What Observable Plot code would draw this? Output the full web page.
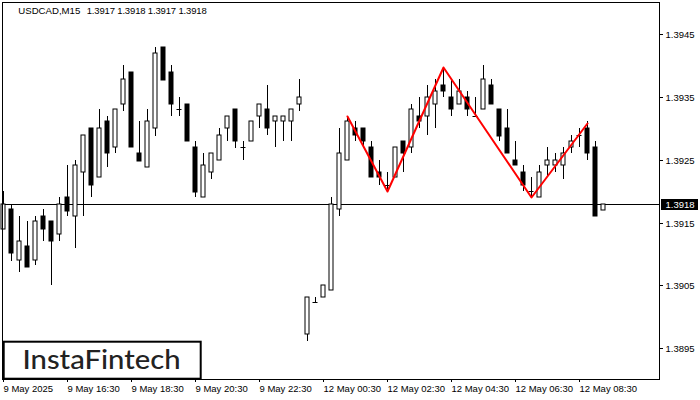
<!DOCTYPE html>
<html><head><meta charset="utf-8">
<script src="https://cdn.jsdelivr.net/npm/d3@7"></script>
<script src="https://cdn.jsdelivr.net/npm/@observablehq/plot@0.6"></script>
<style>
html,body{margin:0;padding:0;background:#fff;}
#chart svg{display:block;}
</style></head><body><div id="chart"></div>
<script>
// ---- data (USDCAD M15, 9 May 14:30 .. 12 May 09:15) ----
const openP = [
1.39140,1.39171,1.39091,1.39112,1.39091,1.39161,1.39152,1.39131,1.39191,1.39161,
1.39231,1.39301,1.39222,1.39311,1.39271,1.39339,1.39390,1.39261,1.39239,1.39301,
1.39430,1.39390,1.39330,1.39339,1.39271,1.39191,1.39231,1.39250,1.39301,1.39330,
1.39271,1.39279,1.39320,1.39330,1.39311,1.39311,1.39311,1.39339,
1.38972,1.39023,1.39032,1.39042,1.39171,1.39250,1.39301,1.39301,1.39271,1.39231,
1.39210,1.39222,1.39280,1.39271,1.39320,1.39320,1.39339,1.39369,1.39350,1.39339,
1.39350,1.39320,1.39330,1.39369,1.39330,1.39301,1.39250,1.39231,1.39201,1.39191,
1.39241,1.39241,1.39241,1.39271,1.39290,1.39301,1.39271,1.39170];
const highP = [
1.39201,1.39179,1.39161,1.39152,1.39160,1.39171,1.39152,1.39191,1.39241,1.39250,
1.39290,1.39301,1.39330,1.39320,1.39330,1.39400,1.39390,1.39311,1.39330,1.39430,
1.39430,1.39400,1.39350,1.39339,1.39280,1.39261,1.39261,1.39301,1.39320,1.39330,
1.39280,1.39311,1.39339,1.39369,1.39320,1.39320,1.39330,1.39379,
1.39032,1.39032,1.39051,1.39191,1.39301,1.39319,1.39311,1.39301,1.39280,1.39250,
1.39231,1.39271,1.39280,1.39339,1.39350,1.39369,1.39379,1.39398,1.39379,1.39379,
1.39360,1.39350,1.39400,1.39379,1.39330,1.39330,1.39280,1.39241,1.39222,1.39241,
1.39271,1.39261,1.39271,1.39290,1.39300,1.39311,1.39280,1.39180];
const lowP = [
1.39140,1.39089,1.39071,1.39080,1.39082,1.39120,1.39050,1.39120,1.39160,1.39110,
1.39160,1.39190,1.39222,1.39239,1.39260,1.39328,1.39271,1.39248,1.39239,1.39288,
1.39377,1.39319,1.39319,1.39279,1.39191,1.39191,1.39220,1.39250,1.39279,1.39269,
1.39250,1.39279,1.39301,1.39290,1.39271,1.39279,1.39279,1.39328,
1.38961,1.39023,1.39032,1.39042,1.39160,1.39250,1.39279,1.39269,1.39222,1.39209,
1.39201,1.39222,1.39231,1.39260,1.39301,1.39290,1.39301,1.39350,1.39319,1.39339,
1.39319,1.39320,1.39330,1.39339,1.39279,1.39260,1.39241,1.39201,1.39191,1.39191,
1.39222,1.39231,1.39220,1.39260,1.39271,1.39250,1.39160,1.39170];
const closeP = [
1.39180,1.39102,1.39120,1.39080,1.39152,1.39140,1.39120,1.39180,1.39169,1.39241,
1.39290,1.39209,1.39301,1.39261,1.39330,1.39379,1.39271,1.39248,1.39311,1.39420,
1.39377,1.39338,1.39330,1.39279,1.39199,1.39241,1.39261,1.39290,1.39320,1.39279,
1.39271,1.39311,1.39339,1.39301,1.39320,1.39320,1.39330,1.39350,
1.39032,1.39023,1.39051,1.39180,1.39261,1.39311,1.39290,1.39279,1.39222,1.39222,
1.39210,1.39271,1.39261,1.39330,1.39311,1.39350,1.39360,1.39360,1.39330,1.39360,
1.39330,1.39320,1.39379,1.39339,1.39288,1.39260,1.39241,1.39210,1.39201,1.39231,
1.39250,1.39250,1.39260,1.39280,1.39290,1.39260,1.39160,1.39180];

const tickIdx = [0,8,16,24,32,40,48,56,64,72];
const tickLabels = ["9 May 2025","9 May 16:30","9 May 18:30","9 May 20:30","9 May 22:30",
  "12 May 00:30","12 May 02:30","12 May 04:30","12 May 06:30","12 May 08:30"];
const priceTicks = [1.3895,1.3905,1.3915,1.3925,1.3935,1.3945];
const patternIdx = [43,48,55,66,73];
const patternPrice = [1.39319,1.39201,1.39398,1.39191,1.39309];
const symbol = "USDCAD,M15";
const brand = "InstaFintech";

// ---- derived tables ----
const bars = openP.map((o,i)=>({i, open:o, high:highP[i], low:lowP[i], close:closeP[i], up: closeP[i] > o}));
const bodies = bars.filter(d => d.open !== d.close);
const dojis = bars.filter(d => d.open === d.close);
const pattern = patternIdx.map((i,k)=>({i, p: patternPrice[k]}));
const last = bars[bars.length-1];
const ohlcText = [last.open,last.high,last.low,last.close].map(v=>v.toFixed(4)).join(" ");
const FONT = "Liberation Sans, Arial, sans-serif";

function overlay(...args) {
  const scales = args.find(a => a && typeof a.y === "function");
  const dims = args.find(a => a && typeof a.width === "number" && "marginRight" in a);
  const g = d3.create("svg:g").attr("text-anchor", "start");
  // title
  const t = g.append("g").attr("font-family", FONT).attr("font-size", "9.5px").attr("fill", "black");
  t.append("text").attr("x", dims.marginLeft + 16.3).attr("y", dims.marginTop + 12.3)
    .attr("textLength", 62).attr("lengthAdjust", "spacingAndGlyphs").text(symbol);
  t.append("text").attr("x", dims.marginLeft + 84.7).attr("y", dims.marginTop + 12.3)
    .attr("textLength", 120).attr("lengthAdjust", "spacing").text(ohlcText);
  // current price tag
  const yp = Math.round(scales.y(last.close)) + 0.5;
  const xr = dims.width - dims.marginRight;
  g.append("rect").attr("x", xr + 2).attr("y", yp - 5.5).attr("width", 37).attr("height", 11).attr("fill", "black");
  g.append("text").attr("x", xr + 6.5).attr("y", yp + 3.5).attr("fill", "white")
    .attr("font-family", FONT).attr("font-size", "9.5px").text(last.close.toFixed(4));
  // brand box
  const yb = dims.height - dims.marginBottom;
  g.append("rect").attr("x", dims.marginLeft + 1.7).attr("y", yb - 37.3).attr("width", 197).attr("height", 37)
    .attr("fill", "white").attr("stroke", "black").attr("stroke-width", 2);
  g.append("text").attr("x", dims.marginLeft + 20.5).attr("y", yb - 10.5)
    .attr("font-family", "Lato, 'Open Sans', sans-serif").attr("font-size", "26px").attr("font-weight", 500)
    .attr("fill", "#222").attr("textLength", 158).attr("lengthAdjust", "spacingAndGlyphs").text(brand);
  return g.node();
}

const chart = Plot.plot({
  width: 700,
  height: 400,
  marginLeft: 2, marginTop: 2, marginRight: 41, marginBottom: 21,
  style: {fontFamily: FONT, fontSize: "9.5px", color: "black", background: "white"},
  x: {domain: [0, 75], range: [3, 603]},
  y: {domain: [1.38901, 1.39501], range: [379, 2], round: true},
  marks: [
    Plot.ruleY([last.close], {stroke: "black", strokeWidth: 1}),
    Plot.ruleX(bars, {x: "i", y1: "low", y2: "high", stroke: "black", strokeWidth: 1}),
    Plot.rect(bodies, {x1: d => d.i - 0.25, x2: d => d.i + 0.25, y1: "open", y2: "close",
      fill: d => d.up ? "white" : "black", stroke: "black", strokeWidth: 1}),
    Plot.ruleY(dojis, {y: "open", x1: d => d.i - 0.3125, x2: d => d.i + 0.3125, stroke: "black", strokeWidth: 1}),
    Plot.line(pattern, {x: "i", y: "p", stroke: "#ff0000", strokeWidth: 2}),
    Plot.frame({stroke: "black", strokeWidth: 1}),
    Plot.axisY({anchor: "right", ticks: priceTicks, tickFormat: d => d.toFixed(4), tickSize: 3, tickPadding: 3, label: null}),
    Plot.axisX({anchor: "bottom", ticks: tickIdx, tickFormat: i => tickLabels[tickIdx.indexOf(i)],
      tickSize: 3, tickPadding: 3, textAnchor: "start", label: null}),
    overlay
  ]
});
document.getElementById("chart").appendChild(chart);
</script></body></html>
